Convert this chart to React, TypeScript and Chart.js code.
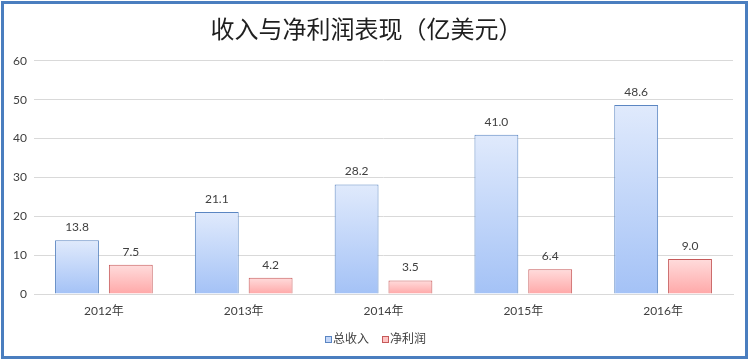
import React, { useEffect, useRef } from "react";
import { Chart, registerables } from "chart.js";

Chart.register(...registerables);

const categories = ["2012年", "2013年", "2014年", "2015年", "2016年"];
const revenue = [13.8, 21.1, 28.2, 41.0, 48.6];
const netProfit = [7.5, 4.2, 3.5, 6.4, 9.0];
const seriesNames = ["总收入", "净利润"];
const titleText = "收入与净利润表现（亿美元）";

const FONT = 'Lato, "Noto Sans CJK SC", sans-serif';

const blueTop = "#e0eafc";
const blueBottom = "#a4c2f6";
const blueBorder = "#5b86c2";
const redTop = "#ffdcdc";
const redBottom = "#ffa8a8";
const redBorder = "#c65a5a";

function gradientFor(top: string, bottom: string) {
  return (ctx: any) => {
    const chart = ctx.chart;
    const area = chart.chartArea;
    const ys = chart.scales && chart.scales.y;
    if (!area || !ys || ctx.type !== "data") return bottom;
    const v = ctx.raw as number;
    const y0 = ys.getPixelForValue(v);
    const y1 = ys.getPixelForValue(0);
    if (!isFinite(y0) || !isFinite(y1) || y0 === y1) return bottom;
    const g = chart.ctx.createLinearGradient(0, y0, 0, y1);
    g.addColorStop(0, top);
    g.addColorStop(1, bottom);
    return g;
  };
}

const valueLabels = {
  id: "valueLabels",
  afterDatasetsDraw(chart: any) {
    const ctx = chart.ctx;
    ctx.save();
    ctx.font = "12px " + FONT;
    ctx.fillStyle = "#404040";
    ctx.textAlign = "center";
    ctx.textBaseline = "bottom";
    chart.data.datasets.forEach((ds: any, i: number) => {
      const meta = chart.getDatasetMeta(i);
      meta.data.forEach((bar: any, j: number) => {
        ctx.fillText(Number(ds.data[j]).toFixed(1), bar.x, bar.y - 7);
      });
    });
    ctx.restore();
  },
};

const legendStarts = [325, 382];

const customLegend = {
  id: "customLegend",
  afterDraw(chart: any) {
    const ctx = chart.ctx;
    ctx.save();
    ctx.font = "12px " + FONT;
    ctx.textBaseline = "middle";
    ctx.textAlign = "left";
    const box = 7;
    const cy = 339.5;
    chart.data.datasets.forEach((ds: any, i: number) => {
      const x = legendStarts[i];
      ctx.fillStyle = ds.legendFill;
      ctx.fillRect(x, cy - box / 2, box, box);
      ctx.strokeStyle = ds.borderColor;
      ctx.lineWidth = 1;
      ctx.strokeRect(x + 0.5, cy - box / 2 + 0.5, box - 1, box - 1);
      ctx.fillStyle = "#404040";
      ctx.fillText(ds.label, x + box + 1, cy);
    });
    ctx.restore();
  },
};

export default function App() {
  const ref = useRef<HTMLCanvasElement | null>(null);
  useEffect(() => {
    if (!ref.current) return;
    const chart = new Chart(ref.current, {
      type: "bar",
      data: {
        labels: categories,
        datasets: [
          {
            label: seriesNames[0],
            data: revenue,
            backgroundColor: gradientFor(blueTop, blueBottom) as any,
            borderColor: blueBorder,
            borderWidth: 1,
            borderSkipped: "bottom",
            barPercentage: 0.815,
            categoryPercentage: 0.77,
            legendFill: "#c4d7f9",
          } as any,
          {
            label: seriesNames[1],
            data: netProfit,
            backgroundColor: gradientFor(redTop, redBottom) as any,
            borderColor: redBorder,
            borderWidth: 1,
            borderSkipped: "bottom",
            barPercentage: 0.815,
            categoryPercentage: 0.77,
            legendFill: "#ffc4c4",
          } as any,
        ],
      },
      options: {
        animation: false,
        responsive: false,
        maintainAspectRatio: false,
        layout: { padding: { left: 0, right: 17, top: 0, bottom: 43 } },
        plugins: {
          title: {
            display: true,
            text: titleText,
            color: "#1f1f1f",
            font: { family: FONT, size: 24, weight: "normal" as any },
            padding: { top: 16, bottom: 16 },
          },
          legend: { display: false },
          tooltip: { enabled: false },
        },
        scales: {
          x: {
            grid: { display: false },
            border: { display: true, color: "#d9d9d9" },
            ticks: { color: "#404040", font: { family: FONT, size: 12 }, padding: 2 },
            afterFit: (s: any) => {
              s.height = 24;
            },
          },
          y: {
            min: 0,
            max: 60,
            ticks: {
              stepSize: 10,
              color: "#404040",
              font: { family: FONT, size: 12 },
              padding: 7,
            },
            grid: { color: "#d9d9d9", drawTicks: false },
            border: { display: false },
            afterFit: (s: any) => {
              s.width = 34;
            },
          },
        },
      },
      plugins: [valueLabels, customLegend],
    });
    return () => chart.destroy();
  }, []);
  return (
    <div style={{ position: "fixed", left: 0, top: 0, width: 750, height: 361, background: "#fff" }}>
      <canvas ref={ref} width={750} height={361} style={{ position: "absolute", left: 0, top: 0, width: 750, height: 361 }} />
      <div
        style={{
          position: "absolute",
          left: 1,
          top: 1,
          width: 741,
          height: 352,
          border: "3px solid #4a7ebf",
          pointerEvents: "none",
        }}
      />
    </div>
  );
}
